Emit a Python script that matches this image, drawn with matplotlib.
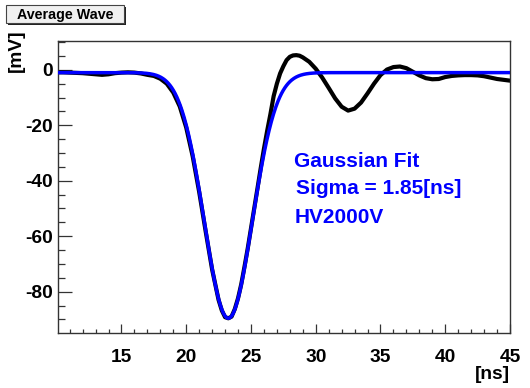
import numpy as np
import matplotlib
matplotlib.use("Agg")
import matplotlib.pyplot as plt
from matplotlib.patches import Rectangle
from matplotlib.ticker import MultipleLocator, FixedLocator

# ---------------- data ----------------
time_ns = [10.0, 10.5, 11.0, 11.5, 12.0, 12.5, 13.0, 13.5, 14.0, 14.5,
           15.0, 15.5, 16.0, 16.5, 17.0, 17.5, 18.0, 18.5, 19.0, 19.5,
           20.0, 20.5, 21.0, 21.5, 22.0, 22.5, 22.75, 23.0, 23.25, 23.5,
           23.75, 24.0, 24.25, 24.5, 24.75, 25.0, 25.25, 25.5, 25.75, 26.0,
           26.25, 26.5, 26.75, 27.0, 27.25, 27.5, 27.75, 28.0, 28.25, 28.5,
           28.75, 29.0, 29.5, 30.0, 30.5, 31.0, 31.5, 32.0, 32.5, 33.0,
           33.5, 34.0, 34.5, 35.0, 35.5, 36.0, 36.5, 37.0, 37.5, 38.0,
           38.5, 39.0, 39.5, 40.0, 40.5, 41.0, 41.5, 42.0, 42.5, 43.0,
           43.5, 44.0, 44.5, 45.0]
wave_mV = [-0.9, -0.9, -1.0, -1.1, -1.2, -1.4, -1.6, -1.8, -1.6, -1.2,
           -1.0, -0.9, -1.0, -1.3, -1.8, -2.2, -3.2, -5.0, -8.2, -13.2,
           -20.8, -31.2, -44.0, -58.2, -72.0, -83.0, -86.8, -89.2, -89.6, -89.0,
           -86.3, -82.4, -77.3, -71.0, -64.4, -57.2, -50.0, -42.8, -35.5, -28.5,
           -22.0, -16.0, -9.5, -5.0, -1.3, 1.3, 3.5, 4.7, 5.2, 5.3,
           5.1, 4.5, 2.9, 0.4, -2.8, -6.5, -10.3, -13.3, -14.7, -14.0,
           -11.8, -8.5, -5.0, -1.9, 0.1, 1.0, 1.2, 0.6, -0.7, -2.0,
           -3.0, -3.4, -3.3, -2.6, -2.2, -2.0, -1.9, -1.9, -2.0, -2.3,
           -2.8, -3.3, -3.6, -3.9]

# Gaussian fit parameters
fit_amplitude = -88.6
fit_mean = 23.25
fit_sigma = 1.85
fit_offset = -1.0

x_ticks = [15, 20, 25, 30, 35, 40, 45]
y_ticks = [-80, -60, -40, -20, 0]
x_range = (10.1, 45.0)
y_range = (-94.8, 10.4)

title_text = "Average Wave"
notes = ["Gaussian Fit", "Sigma = 1.85[ns]", "HV2000V"]

# ---------------- figure ----------------
plt.rcParams["font.family"] = ["Liberation Sans", "DejaVu Sans"]
plt.rcParams["font.weight"] = "bold"
plt.rcParams["axes.unicode_minus"] = False

W, H = 530, 388
fig = plt.figure(figsize=(W / 100, H / 100), dpi=100)

def fx(px):
    return px / W

def fy(py):
    return 1 - py / H

ax = fig.add_axes([fx(58), fy(332.7), fx(510) - fx(58), fy(41) - fy(332.7)])

t_fit = np.linspace(x_range[0], x_range[1], 800)
g_fit = fit_offset + fit_amplitude * np.exp(-0.5 * ((t_fit - fit_mean) / fit_sigma) ** 2)

ax.plot(time_ns, wave_mV, color="black", lw=3.0, solid_capstyle="round",
        solid_joinstyle="round", zorder=2)
ax.plot(t_fit, g_fit, color=(0, 0, 1), lw=2.5, zorder=3)

ax.set_xlim(*x_range)
ax.set_ylim(*y_range)

ax.xaxis.set_major_locator(FixedLocator(x_ticks))
ax.xaxis.set_minor_locator(MultipleLocator(1))
ax.yaxis.set_major_locator(FixedLocator(y_ticks))
ax.yaxis.set_minor_locator(MultipleLocator(5))

for s in ax.spines.values():
    s.set_color("#333333")
    s.set_linewidth(1.0)

ax.tick_params(axis="both", which="both", direction="in", color="#333333",
               top=False, right=False, width=0.9)
ax.tick_params(axis="x", which="major", length=6.3, pad=12.0, labelsize=13.8)
ax.tick_params(axis="x", which="minor", length=3.2)
ax.tick_params(axis="y", which="major", length=9.8, pad=3.6, labelsize=13.8)
ax.tick_params(axis="y", which="minor", length=4.9)
for lab in ax.get_xticklabels() + ax.get_yticklabels():
    lab.set_fontweight("bold")

# axis titles
fig.text(fx(510), fy(379), "[ns]", ha="right", va="baseline",
         fontsize=13.8, fontweight="bold")
fig.text(fx(20.5), fy(72), "[mV]", rotation=90, rotation_mode="anchor",
         ha="left", va="baseline", fontsize=13.8, fontweight="bold")

# annotations
fig.text(fx(294), fy(167.3), notes[0], color=(0, 0, 1), fontsize=15,
         fontweight="bold", va="baseline", ha="left")
fig.text(fx(296), fy(194.3), notes[1], color=(0, 0, 1), fontsize=15,
         fontweight="bold", va="baseline", ha="left")
fig.text(fx(294.5), fy(223.3), notes[2], color=(0, 0, 1), fontsize=15,
         fontweight="bold", va="baseline", ha="left")

# title box with shadow
shadow = Rectangle((fx(8), fy(25)), fx(124) - fx(6), fy(7) - fy(25),
                   transform=fig.transFigure, facecolor="#222222",
                   edgecolor="none", zorder=5)
box = Rectangle((fx(6), fy(23)), fx(124) - fx(6), fy(7) - fy(25),
                transform=fig.transFigure, facecolor="#f0f0f0",
                edgecolor="#444444", linewidth=0.8, zorder=6)
fig.patches.extend([shadow, box])
fig.text(fx(65), fy(15.5), title_text, ha="center", va="center",
         fontsize=10.3, fontweight="bold", zorder=7)

fig.savefig("out.png", dpi=100)
